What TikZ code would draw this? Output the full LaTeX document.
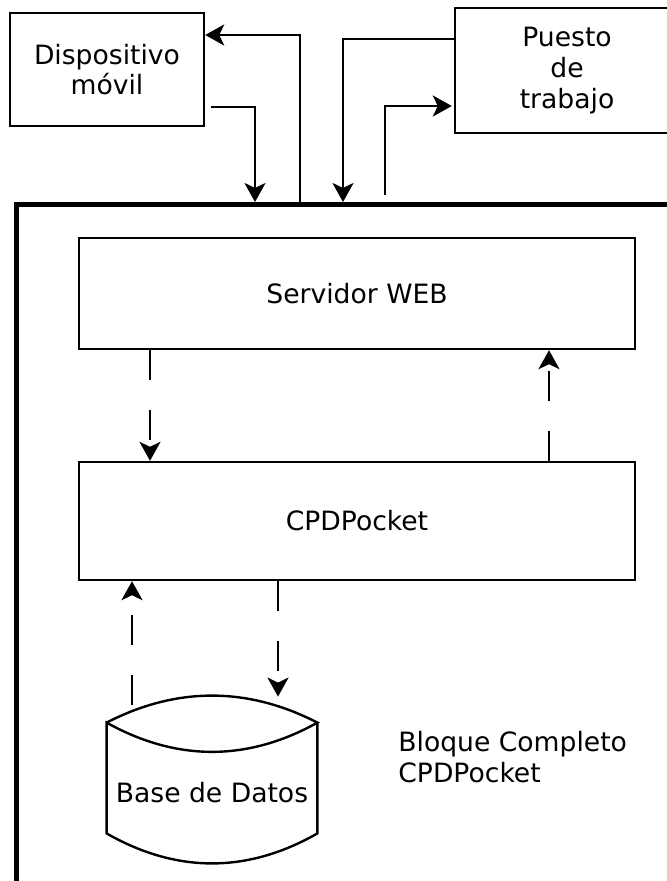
\documentclass[tikz,border=0pt]{standalone}
\usepackage{fontspec}
\setmainfont{DejaVu Sans}
\usetikzlibrary{arrows.meta}
\begin{document}
\begin{tikzpicture}[x=0.5pt,y=-0.5pt,node distance=113.75pt]
    \tikzstyle{box} = [rectangle, draw=black, line width=1.2pt, text centered, align=center, font=\fontsize{13.3}{15.3}\selectfont]
    \tikzstyle{arrow} = [line width=1.2pt, -{Stealth[length=9.5pt,width=10.5pt,inset=2.5pt]}]
    \tikzstyle{dasharrow} = [arrow, dash pattern=on 15pt off 15pt]

    \clip (0,0) rectangle (667,881);

    % Nodes
    \node (bloque) [rectangle, draw=black, line width=2.5pt, minimum width=352.5pt, minimum height=372.5pt] at (368.5,577.5) {};
    \node (movil) [box, minimum width=97pt, minimum height=56.5pt] at (107,69.5) {Dispositivo\\móvil};
    \node (puesto) [box, minimum width=112pt, minimum height=62.5pt] at (567,70.5) {Puesto\\de\\trabajo};
    \node (server) [box, minimum width=278pt, minimum height=55.5pt] at (357,293.5) {Servidor WEB};
    \node (cpd) [box, minimum width=278pt, minimum height=59pt, below of=server] {CPDPocket};
    \node (db) [minimum width=105pt, minimum height=70pt, inner sep=0pt, font=\fontsize{13.3}{15.3}\selectfont] at (212,793) {Base de Datos};
    \node (etiqueta) [anchor=west, align=left, inner sep=0pt, font=\fontsize{13.3}{15.3}\selectfont] at (398,757) {Bloque Completo\\CPDPocket};

    % Database outline
    \draw [line width=1.2pt] (db.north west) .. controls +(70,-36) and +(-70,-36) .. (db.north east)
        .. controls +(-70,39) and +(70,39) .. (db.north west)
        -- ([yshift=15pt]db.south west) .. controls +(70,40) and +(-70,40) .. ([yshift=15pt]db.south east)
        -- (db.north east);

    % Entry points on the block
    \coordinate (m1) at (255,202);
    \coordinate (m2) at (300,205);
    \coordinate (p1) at (343,202);
    \coordinate (p2) at (385,195);

    % Arrows
    \draw [arrow] ([xshift=3pt,yshift=-18.75pt]movil.east) -| (m1);
    \draw [arrow] (m2) |- ([yshift=17.25pt]movil.east);
    \draw [arrow] ([yshift=15.75pt]puesto.west) -| (p1);
    \draw [arrow] (p2) |- ([xshift=-1pt,yshift=-17.75pt]puesto.west);
    \draw [dasharrow] ([xshift=-103.5pt]server.south) -- ([xshift=-103.5pt]cpd.north);
    \draw [dasharrow] ([xshift=96pt]cpd.north) -- ([xshift=96pt]server.south);
    \draw [dasharrow] ([xshift=-39.5pt]cpd.south) -- ([xshift=33pt,yshift=13pt]db.north);
    \draw [dasharrow] ([xshift=-40pt,yshift=9pt]db.north) -- ([xshift=-112.5pt]cpd.south);
\end{tikzpicture}
\end{document}
